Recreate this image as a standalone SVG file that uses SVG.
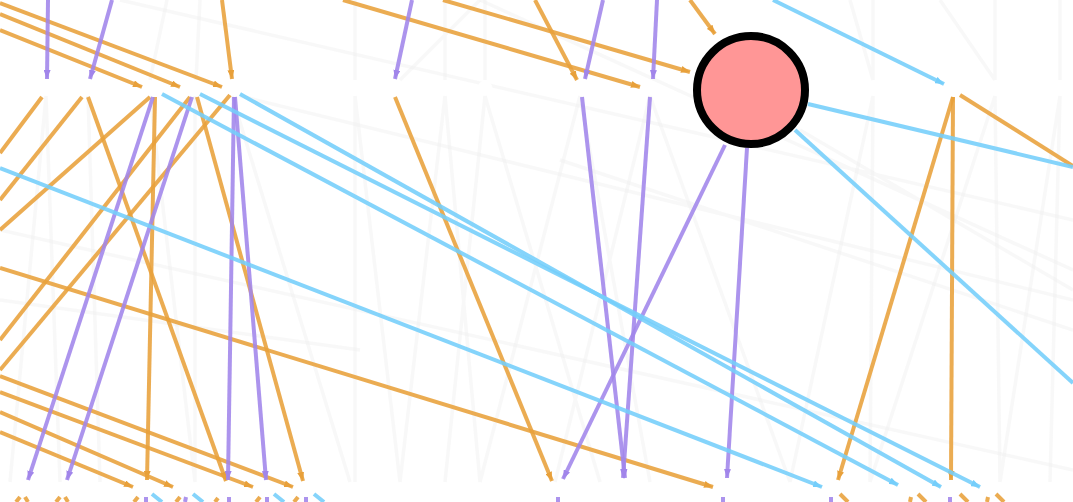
<svg xmlns="http://www.w3.org/2000/svg" width="1073" height="502" viewBox="0 0 1073 502">
<style>
.o{stroke:#E8A03A;stroke-opacity:.88;stroke-width:4;fill:none}
.p{stroke:#A185EA;stroke-opacity:.88;stroke-width:4;fill:none}
.b{stroke:#74CEFB;stroke-opacity:.88;stroke-width:4;fill:none}
.g{stroke:#eeeeee;stroke-opacity:.4;stroke-width:3.5;fill:none}
.n{fill:#fff;stroke:#fff;stroke-width:1}
.big{fill:#FF9696;stroke:#000;stroke-width:8}
</style>
<defs>
<marker id="ao" markerUnits="userSpaceOnUse" markerWidth="9" markerHeight="7" refX="9" refY="3.5" orient="auto"><path d="M0,0L9,3.5L0,7z" fill="#E8A03A"/></marker>
<marker id="ap" markerUnits="userSpaceOnUse" markerWidth="9" markerHeight="7" refX="9" refY="3.5" orient="auto"><path d="M0,0L9,3.5L0,7z" fill="#A185EA"/></marker>
<marker id="ab" markerUnits="userSpaceOnUse" markerWidth="9" markerHeight="7" refX="9" refY="3.5" orient="auto"><path d="M0,0L9,3.5L0,7z" fill="#74CEFB"/></marker>
</defs>
<rect width="1073" height="502" fill="#fff"/>
<g id="faint-connectors">
<path class="g" d="M167,0L150,80M200,0L196,80M355,0L355,80M445,0L445,80M485,0L485,80M480,0L400,80M873,0L873,80M995,0L995,80M1060,0L1060,80M850,0L873,80M940,0L995,80"/>
<path class="g" d="M355,96L355,482M355,96L400,482M445,96L480,482M445,96L400,482M485,96L445,482M485,96L600,482M580,96L480,482M580,96L650,482M650,96L555,482M650,96L790,482M873,96L870,482M873,96L790,482M995,96L1000,482M995,96L870,482M1060,96L1050,482M1060,96L1000,482M46,96L60,482M46,96L10,482M88,96L100,482M232,96L350,482M195,96L195,482M150,96L195,482"/>
<path class="g" d="M0,230L1073,470M240,96L1073,300M480,0L1073,270M800,130L1073,290M0,300L360,350M560,160L1073,330M120,0L1073,220"/>
</g>
<g id="connectors">
<path class="o" marker-end="url(#ao)" d="M0,3L222,87"/>
<path class="o" marker-end="url(#ao)" d="M0,14L180,87"/>
<path class="o" marker-end="url(#ao)" d="M0,30L142,87"/>
<path class="o" marker-end="url(#ao)" d="M222,0L232,79"/>
<path class="o" d="M42,97L0,153"/>
<path class="o" d="M82,97L0,200"/>
<path class="o" d="M150,97L0,230"/>
<path class="o" marker-end="url(#ao)" d="M88,97L226,481"/>
<path class="o" marker-end="url(#ao)" d="M155,97L147,480"/>
<path class="o" d="M190,97L0,340"/>
<path class="o" d="M230,95L0,370"/>
<path class="o" marker-end="url(#ao)" d="M197,97L303,481"/>
<path class="o" marker-end="url(#ao)" d="M0,268L713,487"/>
<path class="o" marker-end="url(#ao)" d="M0,376L293,487"/>
<path class="o" marker-end="url(#ao)" d="M0,392L253,487"/>
<path class="o" marker-end="url(#ao)" d="M0,412L173,487"/>
<path class="o" marker-end="url(#ao)" d="M0,432L133,487"/>
<path class="o" marker-end="url(#ao)" d="M395,97L552,481"/>
<path class="o" marker-end="url(#ao)" d="M535,0L577,80"/>
<path class="o" marker-end="url(#ao)" d="M343,0L640,87"/>
<path class="o" marker-end="url(#ao)" d="M443,0L690,72"/>
<path class="o" marker-end="url(#ao)" d="M690,0L715,34"/>
<path class="o" marker-end="url(#ao)" d="M953,97L838,480"/>
<path class="o" marker-end="url(#ao)" d="M953,97L951,480"/>
<path class="o" d="M960,95L1073,166"/>

<path class="p" marker-end="url(#ap)" d="M48,0L47,79"/>
<path class="p" marker-end="url(#ap)" d="M112,0L90,79"/>
<path class="p" marker-end="url(#ap)" d="M153,97L28,480"/>
<path class="p" marker-end="url(#ap)" d="M192,97L67,480"/>
<path class="p" marker-end="url(#ap)" d="M234,97L228,480"/>
<path class="p" marker-end="url(#ap)" d="M235,97L266,480"/>
<path class="p" marker-end="url(#ap)" d="M412,0L395,79"/>
<path class="p" marker-end="url(#ap)" d="M603,0L585,79"/>
<path class="p" marker-end="url(#ap)" d="M657,0L653,79"/>
<path class="p" marker-end="url(#ap)" d="M582,97L625,478"/>
<path class="p" marker-end="url(#ap)" d="M650,97L623,478"/>
<path class="p" marker-end="url(#ap)" d="M725,145L563,479"/>
<path class="p" marker-end="url(#ap)" d="M747,148L727,478"/>

<path class="b" marker-end="url(#ab)" d="M162,94L898,485"/>
<path class="b" marker-end="url(#ab)" d="M200,94L980,487"/>
<path class="b" marker-end="url(#ab)" d="M240,94L941,487"/>
<path class="b" marker-end="url(#ab)" d="M0,168L822,487"/>
<path class="b" marker-end="url(#ab)" d="M773,0L944,84"/>
<path class="b" d="M808,104L1073,167"/>
<path class="b" d="M795,130L1073,383"/>

<path class="o" d="M20,497L16,502M25,497L28,502M60,497L56,502M65,497L68,502M138,497L134,502M180,497L176,502M218,498L215,502M260,497L256,502M298,497L294,502M840,494L848,502M911,497L910,502M918,494L926,502M960,494L968,502M988,497L987,502M996,494L1004,502"/>
<path class="p" d="M146,497L146,502M186,497L185,502M229,497L229,502M267,497L267,502M306,497L306,502M558,497L558,502M723,497L723,502M831,497L831,502M950,497L950,502"/>
<path class="b" d="M152,494L162,502M193,494L203,502M274,494L284,502M314,494L324,502"/>
</g>
<g id="n1"><circle class="n" cx="45" cy="88" r="7"/></g>
<g id="n2"><circle class="n" cx="87" cy="88" r="7"/></g>
<g id="n3"><circle class="n" cx="153" cy="88" r="7"/></g>
<g id="n4"><circle class="n" cx="193" cy="88" r="7"/></g>
<g id="n5"><circle class="n" cx="233" cy="88" r="7"/></g>
<g id="n6"><circle class="n" cx="355" cy="88" r="7"/></g>
<g id="n7"><circle class="n" cx="394" cy="88" r="7"/></g>
<g id="n8"><circle class="n" cx="445" cy="88" r="7"/></g>
<g id="n9"><circle class="n" cx="485" cy="88" r="7"/></g>
<g id="n10"><circle class="n" cx="581" cy="88" r="7"/></g>
<g id="n11"><circle class="n" cx="651" cy="88" r="7"/></g>
<g id="n12"><circle class="n" cx="873" cy="88" r="7"/></g>
<g id="n13"><circle class="n" cx="953" cy="88" r="7"/></g>
<g id="n14"><circle class="n" cx="995" cy="88" r="7"/></g>
<g id="n15"><circle class="n" cx="1060" cy="88" r="7"/></g>
<g id="big"><circle class="big" cx="751" cy="90" r="54"/></g>
</svg>
